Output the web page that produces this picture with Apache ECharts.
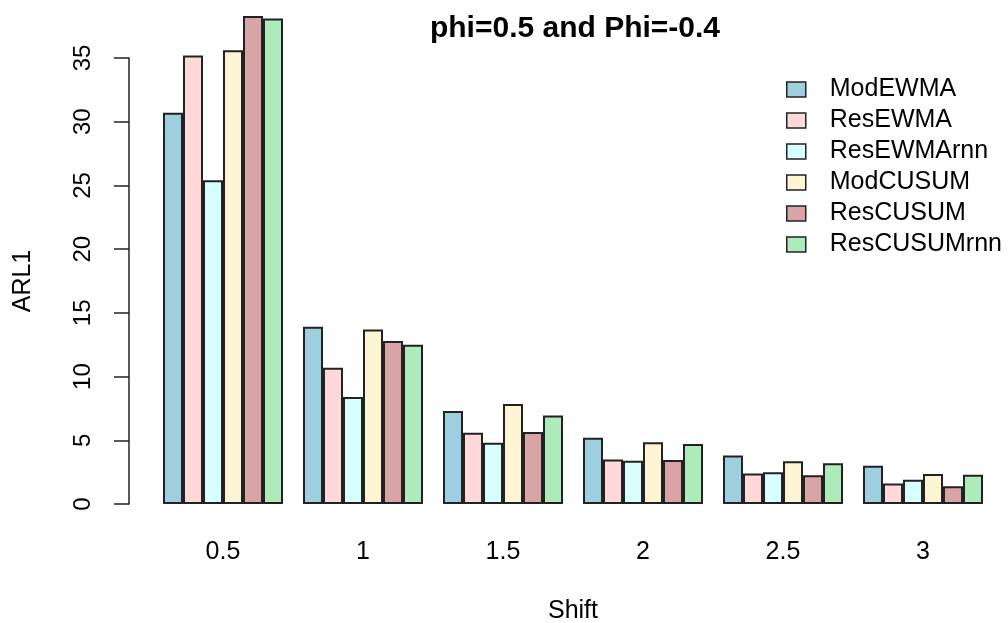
<!DOCTYPE html>
<html>
<head>
<meta charset="utf-8">
<script src="https://cdn.jsdelivr.net/npm/echarts@6/dist/echarts.min.js"></script>
<style>html,body{margin:0;padding:0;background:#fff;overflow:hidden;}#c{width:1008px;height:623px;}</style>
</head>
<body>
<div id="c"></div>
<script>
const categories = ['0.5', '1', '1.5', '2', '2.5', '3'];
const seriesNames = ['ModEWMA', 'ResEWMA', 'ResEWMArnn', 'ModCUSUM', 'ResCUSUM', 'ResCUSUMrnn'];
const modEWMA     = [30.7, 13.9, 7.3, 5.2, 3.8, 3.0];
const resEWMA     = [35.2, 10.7, 5.6, 3.5, 2.4, 1.6];
const resEWMArnn  = [25.4, 8.4, 4.8, 3.4, 2.5, 1.9];
const modCUSUM    = [35.6, 13.7, 7.85, 4.85, 3.35, 2.35];
const resCUSUM    = [38.3, 12.8, 5.65, 3.45, 2.25, 1.4];
const resCUSUMrnn = [38.1, 12.5, 6.95, 4.7, 3.2, 2.3];
const yTicks = [0, 5, 10, 15, 20, 25, 30, 35];
const colors = ['#9ECFDF', '#FFD9D9', '#D7FFFF', '#FFF5D5', '#D9A4A6', '#ADEBBB'];

const allData = [modEWMA, resEWMA, resEWMArnn, modCUSUM, resCUSUM, resCUSUMrnn];
const FONT = 'Liberation Sans, Arial, Helvetica, sans-serif';

const chart = echarts.init(document.getElementById('c'), null, {renderer: 'canvas'});
chart.setOption({
  animation: false,
  backgroundColor: '#ffffff',
  title: {
    text: 'phi=0.5 and Phi=-0.4',
    left: 575, top: 14, textAlign: 'center', padding: 0,
    textStyle: {fontFamily: FONT, fontSize: 30, fontWeight: 'bold', color: '#000'}
  },
  legend: {
    orient: 'vertical',
    left: 786, top: 77, padding: 0,
    icon: 'rect',
    itemWidth: 19, itemHeight: 15, itemGap: 6,
    data: seriesNames,
    itemStyle: {borderColor: '#222', borderWidth: 1.5},
    textStyle: {fontFamily: FONT, fontSize: 25, color: '#000', padding: [0, 0, 0, 19]}
  },
  grid: {left: 153, width: 840, top: 58, height: 446, outerBoundsMode: 'none', containLabel: false},
  xAxis: {
    type: 'category',
    data: categories,
    axisLine: {show: false},
    axisTick: {show: false},
    axisLabel: {fontFamily: FONT, fontSize: 25, color: '#000', margin: 36},
    name: 'Shift',
    nameLocation: 'middle',
    nameGap: 95,
    nameMoveOverlap: false,
    nameTextStyle: {fontFamily: FONT, fontSize: 25, color: '#000'}
  },
  yAxis: {
    type: 'value',
    min: 0, max: 35, interval: 5,
    offset: 24,
    axisLine: {show: true, lineStyle: {color: '#222', width: 1.5}},
    axisTick: {show: true, length: 15, lineStyle: {color: '#222', width: 1.5}},
    splitLine: {show: false},
    axisLabel: {fontFamily: FONT, fontSize: 24, color: '#000', rotate: 90, margin: 34,
      formatter: v => yTicks.includes(v) ? String(v) : ''},
    name: 'ARL1',
    nameLocation: 'middle',
    nameRotate: 90,
    nameGap: 93,
    nameMoveOverlap: false,
    nameTextStyle: {fontFamily: FONT, fontSize: 25, color: '#000'}
  },
  series: seriesNames.map((n, i) => ({
    name: n,
    type: 'bar',
    data: allData[i],
    clip: false,
    barGap: '0%',
    barCategoryGap: '14.2857%',
    itemStyle: {color: colors[i], borderColor: '#222', borderWidth: 2}
  }))
});
</script>
</body>
</html>
